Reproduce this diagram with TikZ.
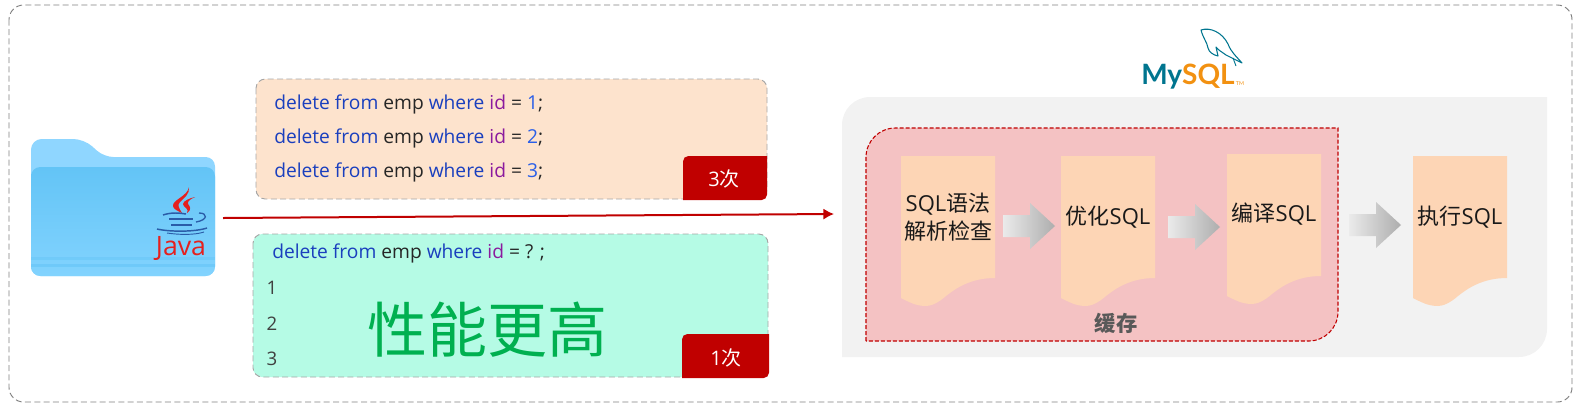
\documentclass[tikz,border=0pt]{standalone}
\usepackage{fontspec}
\setmainfont{Noto Sans CJK SC}
\newfontfamily\latinfont{Open Sans}
\newfontfamily\logofont{Lato}
\usetikzlibrary{positioning, arrows.meta}
\definecolor{BoxPeach}{HTML}{FDE3CD}
\definecolor{BoxMint}{HTML}{B5FBE5}
\definecolor{DocPeach}{HTML}{FDD5B5}
\definecolor{CachePink}{HTML}{F4C2C3}
\definecolor{PanelGray}{HTML}{F2F2F2}
\definecolor{BadgeRed}{HTML}{C00000}
\definecolor{FastGreen}{HTML}{00B050}
\definecolor{KwBlue}{HTML}{1A3FBE}
\definecolor{NumBlue}{HTML}{2A5FE8}
\definecolor{IdPurple}{HTML}{8B1A9E}
\definecolor{FolderBack}{HTML}{8FD6FF}
\definecolor{FolderTop}{HTML}{63C4F6}
\definecolor{FolderLow}{HTML}{82D3FE}
\definecolor{JavaBlue}{HTML}{2A5CA8}
\definecolor{JavaRed}{HTML}{E5201E}
\definecolor{MyTeal}{HTML}{00758F}
\definecolor{MyOrange}{HTML}{F29111}
\newcommand{\kw}[1]{\textcolor{KwBlue}{#1}}
\newcommand{\sqlline}[1]{\kw{delete from} emp \kw{where} \textcolor{IdPurple}{id} = #1}
\newcommand{\sq}{{\latinfont SQL}}
\tikzset{
	codebox/.style={draw=gray!70, dash pattern=on 4.5pt off 2.5pt, line width=.7pt, rounded corners=7pt},
	codeline/.style={anchor=west, inner sep=0pt, font=\fontsize{14.4}{14.4}\selectfont\latinfont, text=black!85},
	bindnum/.style={inner sep=0pt, font=\fontsize{14}{14}\selectfont\latinfont, text=black!75},
	badge/.style={fill=BadgeRed},
	badgetext/.style={inner sep=0pt, text=white, font=\fontsize{15}{15}\selectfont},
	doctext/.style={inner sep=0pt, align=center, text=black!90, font=\fontsize{16.5}{21}\selectfont},
	sqldoc/.pic={
		\fill[DocPeach] (0,0) -- (94,0) -- (94,122) .. controls (70,122) and (55,132) .. (45,140)
			.. controls (37,147) and (30,150) .. (25,150) .. controls (15,150) and (8,146) .. (0,142) -- cycle;
	},
	steparrow/.pic={
		\shade[left color=black!8, right color=black!32] (0,-11) -- (27,-11) -- (27,-23) -- (52,0) -- (27,23) -- (27,11) -- (0,11) -- cycle;
	},
}
\begin{document}
\begin{tikzpicture}[x=.75pt, y=-.75pt]
	\useasboundingbox (0,0) rectangle (1576,412);
	\draw[gray, line width=.7pt, dash pattern=on 4.5pt off 2.5pt, rounded corners=11pt] (9,5) rectangle (1572,402);

	% folder
	\fill[FolderBack] (31,276) [rounded corners=8pt] -- (31,139) -- (84,139) [rounded corners=7pt] -- (104,157) [rounded corners=7pt] -- (215,157) -- (215,276) -- cycle;
	\shade[top color=FolderTop, bottom color=FolderLow, rounded corners=7pt] (31,276) -- (31,167) -- (215,167) -- (215,276) -- cycle;
	\fill[FolderTop, opacity=.45] (31,257) rectangle (215,260);
	\fill[FolderTop, opacity=.55] (31,264) rectangle (215,267);

	% java logo
	\fill[JavaRed] (189,187) .. controls (188,196) and (172,200) .. (173,206) .. controls (173,209) and (178,211) .. (182,213) .. controls (179,208) and (177,205) .. (180,202) .. controls (184,198) and (190,194) .. (189,187) -- cycle;
	\fill[JavaRed] (195,197) .. controls (190,198) and (183,201) .. (183,204) .. controls (183,207) and (190,209) .. (187,213) .. controls (192,210) and (190,206) .. (188,204) .. controls (187,201) and (191,199) .. (195,197) -- cycle;
	\draw[JavaBlue, line width=1.1pt] (163,215) .. controls (172,212) and (180,213) .. (186,214);
	\draw[JavaBlue, line width=1pt] (199,213) .. controls (208,213) and (208,220) .. (196,222);
	\draw[JavaBlue, line width=1.2pt] (169,219) -- (193,219);
	\draw[JavaBlue, line width=1.2pt] (171,225) -- (192,225);
	\draw[JavaBlue, line width=1.1pt] (157,229) .. controls (170,232) and (195,232) .. (207,228);
	\draw[JavaBlue, line width=.7pt] (167,233) .. controls (180,235) and (195,235) .. (204,232);
	\node (javatext) at (181,248) [inner sep=0pt, text=JavaRed, font=\fontsize{20}{20}\selectfont\latinfont] {Java};

	% sql boxes
	\path[codebox, fill=BoxPeach] (256,79) rectangle (767,199);
	\path[badge] (683,200) [rounded corners=4pt] -- (683,156) [sharp corners] -- (767,156) [rounded corners=4pt] -- (767,200) [sharp corners] -- cycle;
	\node (line1) at (274,104) [codeline] {\sqlline{\textcolor{NumBlue}{1}};};
	\node (line2) at (274,138) [codeline] {\sqlline{\textcolor{NumBlue}{2}};};
	\node (line3) at (274,172) [codeline] {\sqlline{\textcolor{NumBlue}{3}};};
	\node (threetimes) at (724,179) [badgetext] {{\latinfont 3}次};

	\path[codebox, fill=BoxMint] (253,234) rectangle (768,377);
	\path[badge] (682,378) [rounded corners=4pt] -- (682,334) [sharp corners] -- (769,334) [rounded corners=4pt] -- (769,378) [sharp corners] -- cycle;
	\node (prepared) at (272,253) [codeline] {\sqlline{?} ;};
	\node (bind1) at (272,288) [bindnum] {1};
	\node (bind2) at (272,324) [bindnum] {2};
	\node (bind3) at (272,359) [bindnum] {3};
	\node (faster) at (487,330) [inner sep=0pt, font=\fontsize{45}{45}\selectfont, text=FastGreen] {性能更高};
	\node (onetime) at (726,358) [badgetext] {{\latinfont 1}次};

	% mysql logo
	\draw[MyTeal, line width=.8pt, line join=round] (1201,30) .. controls (1210,27) and (1222,32) .. (1228,44) .. controls (1231,52) and (1236,56) .. (1242,63) .. controls (1236,60) and (1230,57) .. (1226,55) .. controls (1222,52) and (1218,50) .. (1216,47) -- (1218,56) .. controls (1213,55) and (1209,52) .. (1208,48) .. controls (1207,42) and (1203,38) .. (1201,30) -- cycle;
	\draw[MyTeal, line width=.7pt] (1233,58) -- (1236,66);
	\node (mylogo) at (1141,77) [anchor=west, inner sep=0pt, font=\fontsize{21}{21}\selectfont\logofont\bfseries] {\textcolor{MyTeal}{My}\textcolor{MyOrange}{SQL}};
	\node (mytm) at (1240,84) [inner sep=0pt, text=MyOrange, font=\fontsize{4}{4}\selectfont\logofont] {TM};

	% mysql panel
	\fill[PanelGray] (842,357) [rounded corners=21pt] -- (842,97) [sharp corners] -- (1547,97) [rounded corners=21pt] -- (1547,357) [sharp corners] -- cycle;
	\draw[BadgeRed, fill=CachePink, line width=.8pt, dash pattern=on 3pt off 1.5pt] (866,341) [rounded corners=22pt] -- (866,128) [sharp corners] -- (1338,128) [rounded corners=22pt] -- (1338,341) [sharp corners] -- cycle;
	\node (cachelabel) at (1116,323) [inner sep=0pt, text=black!65, font=\fontsize{16}{16}\selectfont\bfseries] {缓存};

	\pic at (901,156) {sqldoc};
	\pic at (1061,156) {sqldoc};
	\pic at (1227,154) {sqldoc};
	\pic at (1413,156) {sqldoc};
	\node (parse) at (948,217) [doctext] {\sq 语法\\解析检查};
	\node (optimize) at (1108,217) [doctext] {优化\sq};
	\node (compile) at (1274,214) [doctext] {编译\sq};
	\node (execute) at (1460,217) [doctext] {执行\sq};
	\pic at (1003,226) {steparrow};
	\pic at (1168,227) {steparrow};
	\pic at (1349,225) {steparrow};

	% call arrow
	\coordinate (callstart) at (223,218);
	\coordinate (callend) at (834,214);
	\draw[BadgeRed, line width=1.5pt, -{Latex[length=8pt, width=8.5pt]}] (callstart) -- (callend);
\end{tikzpicture}
\end{document}
